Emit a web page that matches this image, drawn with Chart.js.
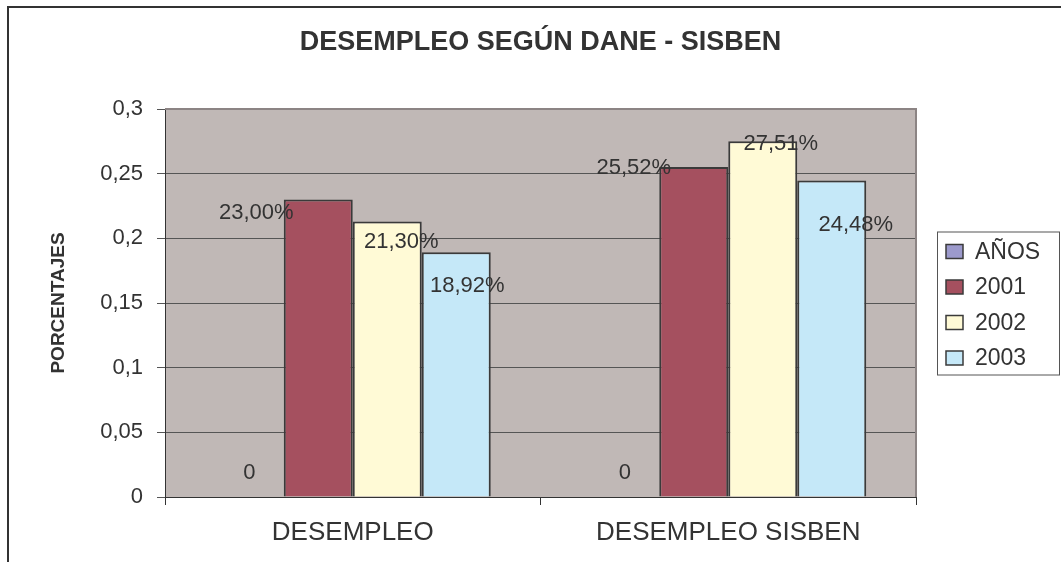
<!DOCTYPE html>
<html>
<head>
<meta charset="utf-8">
<title>Desempleo según DANE - SISBEN</title>
<script src="https://cdn.jsdelivr.net/npm/chart.js@4.4.0/dist/chart.umd.min.js"></script>
<style>
  body { margin: 0; background: #ffffff; }
  canvas { display: block; }
</style>
</head>
<body>
<canvas id="grafico" width="1061" height="562"></canvas>
<script>
// Datos del gráfico
const categorias = ["DESEMPLEO", "DESEMPLEO SISBEN"];
const series = ["AÑOS", "2001", "2002", "2003"];
const valoresAnios = [0, 0];
const valores2001 = [0.23, 0.2552];
const valores2002 = [0.213, 0.2751];
const valores2003 = [0.1892, 0.2448];
const ticksY = [0, 0.05, 0.1, 0.15, 0.2, 0.25, 0.3];

// Estilos
const colores = ["#9c9acc", "#a5505f", "#fffad6", "#c5e8f8"];
const colorBorde = "#3a3a3a";
const colorTexto = "#333333";
const fuente = "'Liberation Sans', Arial, sans-serif";

// Desplazamiento de las etiquetas respecto al tope de cada barra (como en Excel)
const desplazEtiquetas = [
  [[0, -24], [0, -24]],
  [[-62, 13], [-60, 1]],
  [[14, 20], [18, 3]],
  [[11, 34], [24, 45]],
];

const coma = (v) => String(Number(v.toFixed(2))).replace(".", ",");
const porcentaje = (v) => (v === 0 ? "0" : (v * 100).toFixed(2).replace(".", ",") + "%");

// Fondo, marco y borde del área de trazado
const fondoPlugin = {
  id: "fondo",
  beforeDraw(chart) {
    const { ctx, chartArea: a, width, height } = chart;
    ctx.save();
    ctx.fillStyle = "#ffffff";
    ctx.fillRect(0, 0, width, height);
    ctx.strokeStyle = "#333333";
    ctx.lineWidth = 2;
    ctx.beginPath();
    ctx.moveTo(8, height);
    ctx.lineTo(8, 7);
    ctx.lineTo(width, 7);
    ctx.stroke();
    ctx.fillStyle = "#c0b8b6";
    ctx.fillRect(a.left, a.top, a.right - a.left, a.bottom - a.top);
    ctx.restore();
  },
  beforeDatasetsDraw(chart) {
    const { ctx, chartArea: a } = chart;
    ctx.save();
    ctx.strokeStyle = "#8c8484";
    ctx.lineWidth = 2;
    ctx.beginPath();
    ctx.moveTo(a.left, a.top);
    ctx.lineTo(a.right, a.top);
    ctx.lineTo(a.right, a.bottom);
    ctx.stroke();
    ctx.restore();
  },
};

// Etiquetas de datos
const etiquetasPlugin = {
  id: "etiquetas",
  afterDatasetsDraw(chart) {
    const { ctx } = chart;
    ctx.save();
    ctx.font = "22px " + fuente;
    ctx.fillStyle = colorTexto;
    ctx.textAlign = "center";
    ctx.textBaseline = "middle";
    chart.data.datasets.forEach((ds, i) => {
      chart.getDatasetMeta(i).data.forEach((barra, j) => {
        const [dx, dy] = desplazEtiquetas[i][j];
        ctx.fillText(porcentaje(ds.data[j]), barra.x + dx, barra.y + dy);
      });
    });
    ctx.restore();
  },
};

// Leyenda con recuadro
const leyendaPlugin = {
  id: "leyenda",
  afterDraw(chart) {
    const { ctx, chartArea: a } = chart;
    const izq = a.right + 21;
    const alto = 143;
    const arriba = (a.top + a.bottom) / 2 - alto / 2;
    ctx.save();
    ctx.fillStyle = "#ffffff";
    ctx.fillRect(izq, arriba, 122, alto);
    ctx.strokeStyle = "#555555";
    ctx.lineWidth = 1;
    ctx.strokeRect(izq + 0.5, arriba + 0.5, 122, alto);
    ctx.font = "23px " + fuente;
    ctx.textBaseline = "middle";
    chart.data.datasets.forEach((ds, i) => {
      const y = arriba + 20 + i * 35.5;
      ctx.fillStyle = colores[i];
      ctx.fillRect(izq + 9, y - 7, 17, 14);
      ctx.strokeStyle = colorBorde;
      ctx.lineWidth = 1.5;
      ctx.strokeRect(izq + 9, y - 7, 17, 14);
      ctx.fillStyle = colorTexto;
      ctx.fillText(ds.label, izq + 38, y + 1);
    });
    ctx.restore();
  },
};

const datos = [valoresAnios, valores2001, valores2002, valores2003];

new Chart(document.getElementById("grafico"), {
  type: "bar",
  data: {
    labels: categorias,
    datasets: series.map((nombre, i) => ({
      label: nombre,
      data: datos[i],
      backgroundColor: colores[i],
      borderColor: colorBorde,
      borderWidth: i === 0 ? 0 : 2,
      borderSkipped: "bottom",
      categoryPercentage: 0.735,
      barPercentage: 1,
    })),
  },
  options: {
    responsive: false,
    animation: false,
    devicePixelRatio: 1,
    layout: { padding: { top: 0, right: 145, bottom: 0, left: 0 } },
    plugins: {
      legend: { display: false },
      tooltip: { enabled: false },
      title: {
        display: true,
        fullSize: false,
        text: "DESEMPLEO SEGÚN DANE - SISBEN",
        color: colorTexto,
        font: { family: fuente, size: 27, weight: "bold" },
        padding: { top: 26, bottom: 50.6 },
      },
    },
    scales: {
      x: {
        offset: true,
        grid: { display: true, drawOnChartArea: false, tickLength: 8, color: "#333333" },
        border: { display: true, color: "#333333", width: 1 },
        ticks: { color: colorTexto, font: { family: fuente, size: 26 }, padding: 12 },
        afterFit(scale) { scale.height = 65; },
      },
      y: {
        min: 0,
        max: 0.3,
        afterBuildTicks(scale) { scale.ticks = ticksY.map((v) => ({ value: v })); },
        grid: { color: "#555555", lineWidth: 1, tickLength: 8 },
        border: { display: true, color: "#333333", width: 1 },
        ticks: {
          color: colorTexto,
          font: { family: fuente, size: 22 },
          padding: 14,
          callback: (v) => coma(v),
        },
        title: {
          display: true,
          text: "PORCENTAJES",
          color: colorTexto,
          font: { family: fuente, size: 19, weight: "bold" },
          padding: { top: 47, bottom: 0 },
        },
        afterFit(scale) { scale.width = 165; },
      },
    },
  },
  plugins: [fondoPlugin, etiquetasPlugin, leyendaPlugin],
});
</script>
</body>
</html>
